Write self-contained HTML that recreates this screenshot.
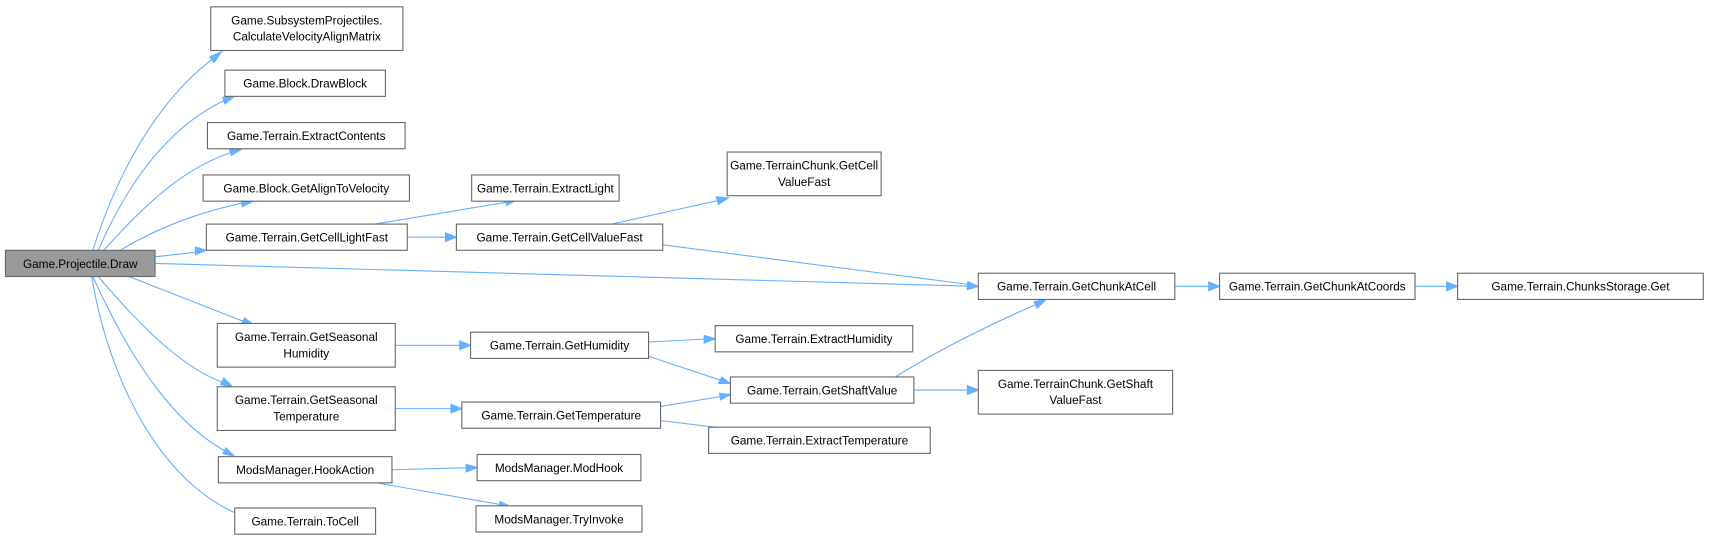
<!DOCTYPE html>
<html><head><meta charset="utf-8"><style>
html,body{margin:0;padding:0;background:#fff;width:1712px;height:541px;overflow:hidden}
text{font-family:"Liberation Sans",Arial,sans-serif;font-size:10.8px;fill:#000;text-anchor:middle}
.n{fill:#fff;stroke:#666;stroke-width:1}
.e{fill:none;stroke:#63b0ff;stroke-width:1}
.a{fill:#63b0ff;stroke:#63b0ff}
</style></head><body>
<svg width="1712" height="541" viewBox="0 0 1568 495" xmlns="http://www.w3.org/2000/svg">
<g>
<path class="e" d="M85,229 C110,150 150,85 200,50"/><polygon class="a" points="203,47 196,57 192,52"/>
<path class="e" d="M90,229 C120,160 160,110 214,88"/><polygon class="a" points="216,87 206,95 204,89"/>
<path class="e" d="M95,229 C130,190 170,150 220,137"/><polygon class="a" points="222,136 212,142 210,136"/>
<path class="e" d="M110,229 C150,205 190,192 230,184"/><polygon class="a" points="232,184 222,189 221,183"/>
<path class="e" d="M142,235 L186,230"/><polygon class="a" points="189,229 179,233 179,226"/>
<path class="e" d="M142,241 L893,262"/><polygon class="a" points="896,262 886,265 886,258"/>
<path class="e" d="M118,253 L228,296"/><polygon class="a" points="232,297 221,297 224,291"/>
<path class="e" d="M90,253 C130,300 170,340 210,352"/><polygon class="a" points="213,354 202,352 205,346"/>
<path class="e" d="M85,253 C120,330 160,390 212,416"/><polygon class="a" points="215,418 204,415 207,410"/>
<path class="e" d="M84,253 C100,350 150,450 230,475"/><polygon class="a" points="234,476 223,477 225,471"/>
<path class="e" d="M343,205 L470,184"/><polygon class="a" points="473,183 464,188 463,182"/>
<path class="e" d="M373,217 L415,217"/><polygon class="a" points="418,217 408,221 408,213"/>
<path class="e" d="M560,205 L664,182"/><polygon class="a" points="667,181 658,187 656,180"/>
<path class="e" d="M607,224 L893,261"/><polygon class="a" points="896,262 886,264 887,258"/>
<path class="e" d="M1076,262 L1114,262"/><polygon class="a" points="1117,262 1107,266 1107,258"/>
<path class="e" d="M1296,262 L1332,262"/><polygon class="a" points="1335,262 1325,266 1325,258"/>
<path class="e" d="M362,316 L428,316"/><polygon class="a" points="431,316 421,320 421,312"/>
<path class="e" d="M362,374 L420,374"/><polygon class="a" points="423,374 413,378 413,370"/>
<path class="e" d="M359,430 L434,428"/><polygon class="a" points="437,428 427,432 427,425"/>
<path class="e" d="M345,442 L465,463"/><polygon class="a" points="468,464 457,465 458,459"/>
<path class="e" d="M594,313 L652,310"/><polygon class="a" points="655,310 645,314 645,307"/>
<path class="e" d="M594,326 L666,350"/><polygon class="a" points="669,351 658,351 661,345"/>
<path class="e" d="M605,372 L666,362"/><polygon class="a" points="669,361 660,366 659,360"/>
<path class="e" d="M605,385 L680,394"/><polygon class="a" points="683,394 673,397 673,391"/>
<path class="e" d="M820,345 C860,320 910,295 955,276"/><polygon class="a" points="958,274 950,282 947,276"/>
<path class="e" d="M837,357 L893,357"/><polygon class="a" points="896,357 886,361 886,353"/>
</g>
<rect x="5" y="229" width="137" height="24" fill="#999" stroke="#666"/><text x="73.5" y="245">Game.Projectile.Draw</text>
<rect class="n" x="193" y="6" width="176" height="40"/><text x="281" y="22">Game.SubsystemProjectiles.</text><text x="281" y="37">CalculateVelocityAlignMatrix</text>
<rect class="n" x="206" y="64" width="147" height="24"/><text x="279.5" y="80">Game.Block.DrawBlock</text>
<rect class="n" x="190" y="112" width="181" height="24"/><text x="280.5" y="128">Game.Terrain.ExtractContents</text>
<rect class="n" x="186" y="160" width="189" height="24"/><text x="280.5" y="176">Game.Block.GetAlignToVelocity</text>
<rect class="n" x="189" y="205" width="184" height="24"/><text x="281" y="221">Game.Terrain.GetCellLightFast</text>
<rect class="n" x="199" y="296" width="163" height="40"/><text x="280.5" y="312">Game.Terrain.GetSeasonal</text><text x="280.5" y="327">Humidity</text>
<rect class="n" x="199" y="354" width="163" height="40"/><text x="280.5" y="370">Game.Terrain.GetSeasonal</text><text x="280.5" y="385">Temperature</text>
<rect class="n" x="200" y="418" width="159" height="24"/><text x="279.5" y="434">ModsManager.HookAction</text>
<rect class="n" x="215" y="465" width="129" height="24"/><text x="279.5" y="481">Game.Terrain.ToCell</text>
<rect class="n" x="432" y="160" width="135" height="24"/><text x="499.5" y="176">Game.Terrain.ExtractLight</text>
<rect class="n" x="418" y="205" width="189" height="24"/><text x="512.5" y="221">Game.Terrain.GetCellValueFast</text>
<rect class="n" x="666" y="139" width="141" height="40"/><text x="736.5" y="155">Game.TerrainChunk.GetCell</text><text x="736.5" y="170">ValueFast</text>
<rect class="n" x="896" y="250" width="180" height="24"/><text x="986" y="266">Game.Terrain.GetChunkAtCell</text>
<rect class="n" x="1117" y="250" width="179" height="24"/><text x="1206.5" y="266">Game.Terrain.GetChunkAtCoords</text>
<rect class="n" x="1335" y="250" width="225" height="24"/><text x="1447.5" y="266">Game.Terrain.ChunksStorage.Get</text>
<rect class="n" x="431" y="304" width="163" height="24"/><text x="512.5" y="320">Game.Terrain.GetHumidity</text>
<rect class="n" x="655" y="298" width="181" height="24"/><text x="745.5" y="314">Game.Terrain.ExtractHumidity</text>
<rect class="n" x="669" y="345" width="168" height="24"/><text x="753" y="361">Game.Terrain.GetShaftValue</text>
<rect class="n" x="896" y="339" width="178" height="40"/><text x="985" y="355">Game.TerrainChunk.GetShaft</text><text x="985" y="370">ValueFast</text>
<rect class="n" x="423" y="368" width="182" height="24"/><text x="514" y="384">Game.Terrain.GetTemperature</text>
<rect class="n" x="649" y="391" width="203" height="24"/><text x="750.5" y="407">Game.Terrain.ExtractTemperature</text>
<rect class="n" x="437" y="416" width="150" height="24"/><text x="512" y="432">ModsManager.ModHook</text>
<rect class="n" x="436" y="463" width="152" height="24"/><text x="512" y="479">ModsManager.TryInvoke</text>
</svg>
</body></html>
